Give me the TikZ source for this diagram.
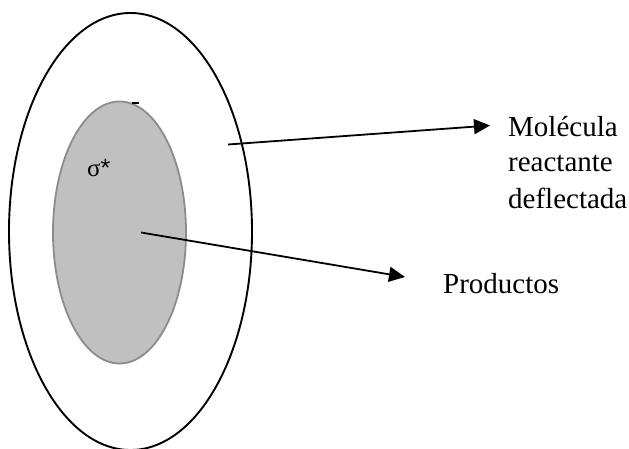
\documentclass[tikz,border=0pt]{standalone}
\usepackage{fontspec}
\setmainfont{Liberation Serif}
\newfontfamily\sansf{Liberation Sans}
\usetikzlibrary{shapes.geometric,arrows.meta}
\definecolor{innerfill}{HTML}{C0C0C0}
\definecolor{innerdraw}{HTML}{8C8C8C}
\tikzset{
  outerell/.style={ellipse, draw=black, line width=1.9pt, inner sep=0pt},
  innerell/.style={ellipse, draw=innerdraw, fill=innerfill, line width=1.8pt, inner sep=0pt},
  conn/.style={line width=1.8pt, -{Triangle[length=16pt,width=15pt]}},
  lbl/.style={font=\fontsize{29}{35}\selectfont, inner sep=0pt, anchor=base west},
}
\begin{document}
\begin{tikzpicture}[x=1pt,y=-1pt]
\useasboundingbox (0,0) rectangle (629,449);
\node[outerell, minimum width=243pt, minimum height=437pt] (outer) at (130.5,231.5) {};
\node[innerell, minimum width=133pt, minimum height=262pt] (inner) at (119.5,232.5) {};
\coordinate (dashA) at (132,103);
\coordinate (dashB) at (139,103);
\draw[line width=1.8pt] (dashA) -- (dashB);
\node[inner sep=0pt, anchor=base west, font=\fontsize{25}{30}\selectfont] (sigma) at (87,177) {σ\sansf*};
\node[lbl] (mol1) at (508,137) {Molécula};
\node[lbl] (mol2) at (508,172) {reactante};
\node[lbl] (mol3) at (508,208) {deflectada};
\node[lbl] (prod) at (443,293) {Productos};
\coordinate (s1) at (228,144.5);
\coordinate (t1) at (490,125.5);
\coordinate (s2) at (141,232.5);
\coordinate (t2) at (405,277);
\draw[conn] (s1) -- (t1);
\draw[conn] (s2) -- (t2);
\end{tikzpicture}
\end{document}
